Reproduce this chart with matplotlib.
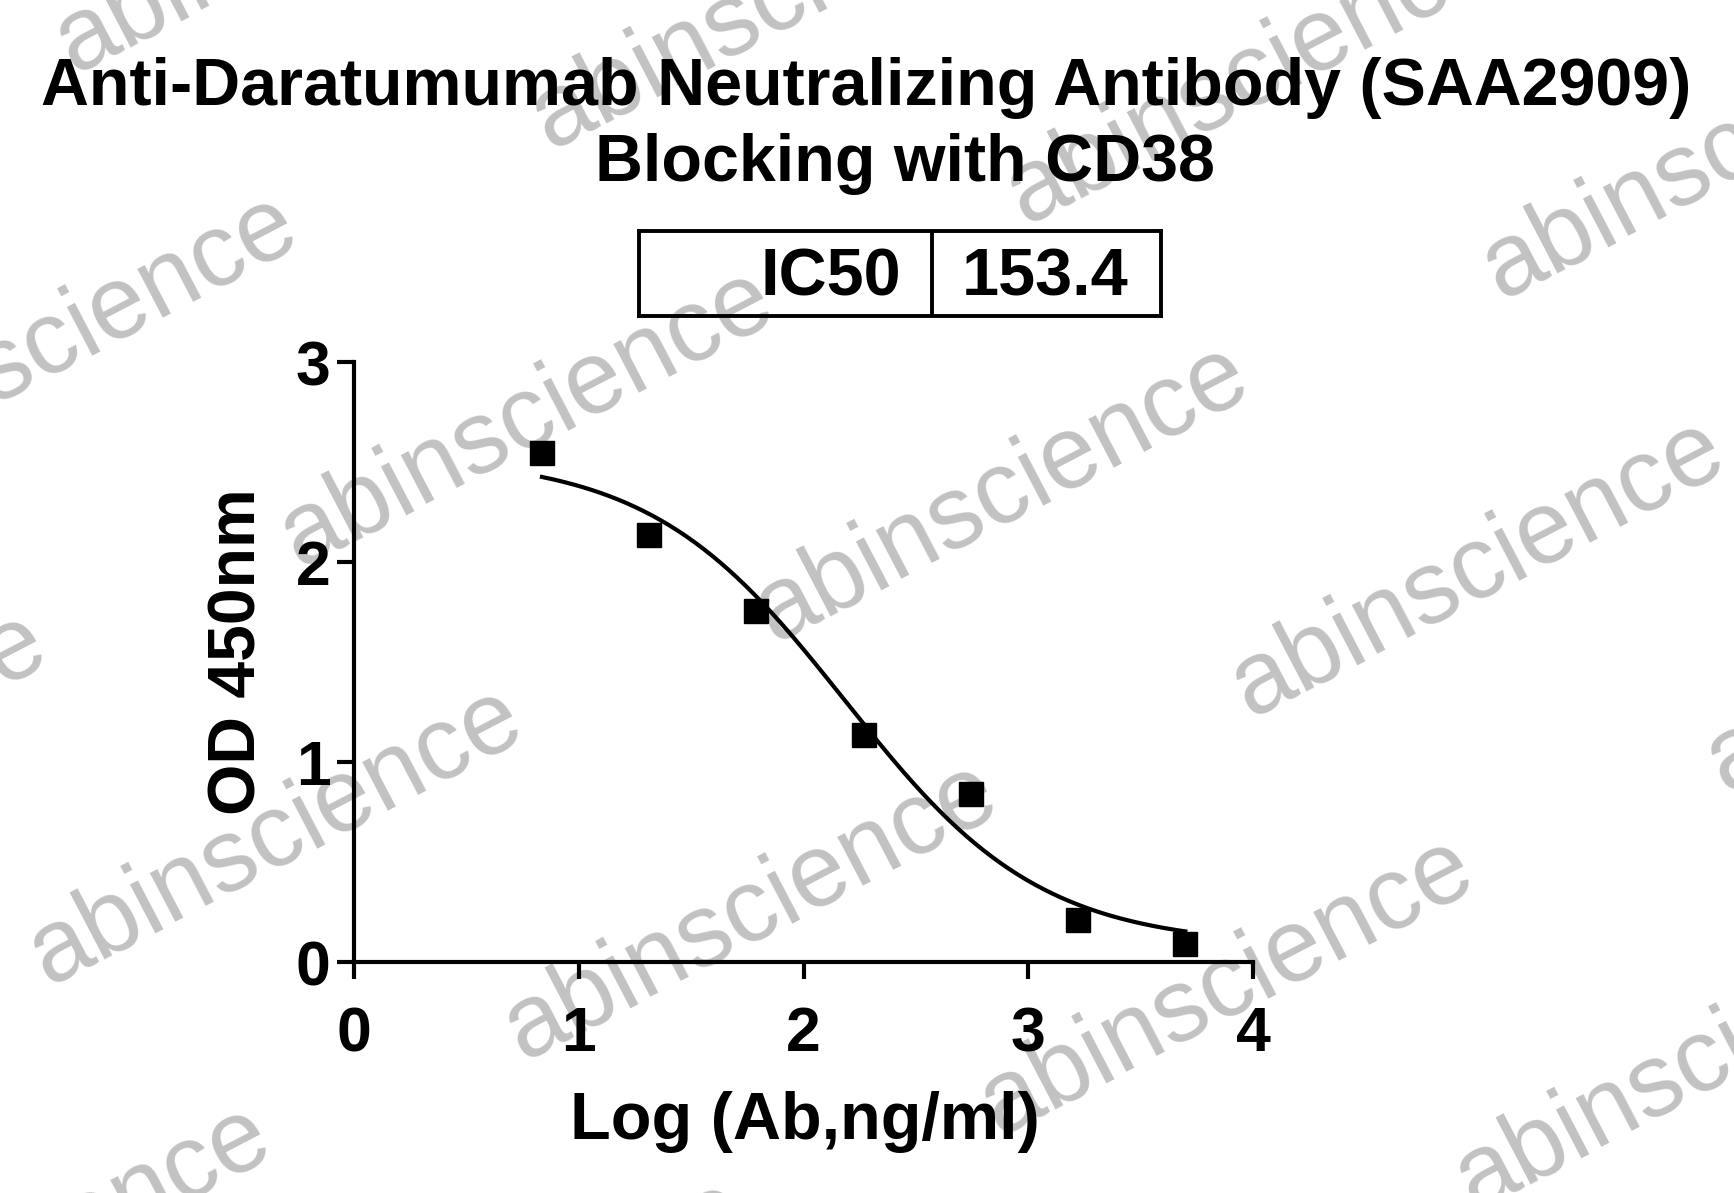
import numpy as np
import matplotlib
matplotlib.use("Agg")
import matplotlib.pyplot as plt

# ---- data ----
conc_ng_ml = [6.86, 20.6, 61.7, 185.2, 555.6, 1666.7, 5000.0]
od450 = [2.545, 2.135, 1.755, 1.135, 0.838, 0.212, 0.092]
ic50 = 153.4
fit_top = 2.53
fit_bottom = 0.08
fit_hill = 1.0

title_line1 = "Anti-Daratumumab Neutralizing Antibody (SAA2909)"
title_line2 = "Blocking with CD38"
xlabel = "Log (Ab,ng/ml)"
ylabel = "OD 450nm"
xticks = [0, 1, 2, 3, 4]
yticks = [0, 1, 2, 3]

W, H = 1734, 1193
plt.rcParams['font.family'] = ['Liberation Sans', 'DejaVu Sans']
fig = plt.figure(figsize=(W / 100, H / 100), dpi=100)

def fx(px):
    return px / W

def fy(py):
    return 1 - py / H

# ---- watermarks ----
s = W / 1568.0
A0 = np.array([476.0, 378.0])
col_step = np.array([430.0, 68.0])
row_step = np.array([-227.0, 378.0])
for r in range(-2, 4):
    for c in range(-2, 5):
        cx, cy = (A0 + c * col_step + r * row_step) * s
        if -400 < cx < W + 400 and -300 < cy < H + 300:
            fig.text(fx(cx), fy(cy), "abinscience", fontsize=74, color="#c2c2c2",
                     rotation=27.6, rotation_mode="anchor", ha="center", va="center",
                     family=['Liberation Sans', 'DejaVu Sans'], zorder=-5)

# ---- axes ----
x0, x4 = 354, 1253
y0, y3 = 962, 362
ax = fig.add_axes([fx(x0), fy(y0), (x4 - x0) / W, (y0 - y3) / H])
ax.set_facecolor("none")
ax.patch.set_alpha(0)

logx = np.log10(conc_ng_ml)
xs = np.linspace(logx.min(), logx.max(), 300)
ys = fit_bottom + (fit_top - fit_bottom) / (1 + 10 ** ((xs - np.log10(ic50)) * fit_hill))
ax.plot(xs, ys, color="black", lw=3.0, zorder=3)
ax.plot(logx, od450, ls="none", marker="s", ms=17.5, color="black", zorder=4, clip_on=False)

ax.set_xlim(0, 4)
ax.set_ylim(0, 3)
ax.set_xticks(xticks)
ax.set_yticks(yticks)
for sp in ["top", "right"]:
    ax.spines[sp].set_visible(False)
for sp in ["left", "bottom"]:
    ax.spines[sp].set_linewidth(3.0)
ax.tick_params(axis="both", direction="out", length=12, width=3.0, labelsize=45)
ax.tick_params(axis="x", pad=19)
ax.tick_params(axis="y", pad=5)
for lab in ax.get_xticklabels() + ax.get_yticklabels():
    lab.set_fontweight("bold")

# axis labels (figure text placement)
fig.text(fx(805), fy(1139), xlabel, fontsize=48, fontweight="bold", ha="center", va="baseline")
fig.text(fx(238), fy(652), ylabel, fontsize=47.5, fontweight="bold", ha="center", va="center", rotation=90)

# titles
fig.text(fx(866), fy(105), title_line1, fontsize=47.8, fontweight="bold", ha="center", va="baseline")
fig.text(fx(905), fy(181), title_line2, fontsize=47.8, fontweight="bold", ha="center", va="baseline")

# IC50 table
bx0, bx1, by0, by1, bdiv = 639, 1161, 231, 316, 932
tbl = fig.add_axes([fx(bx0), fy(by1), (bx1 - bx0) / W, (by1 - by0) / H])
tbl.set_xlim(bx0, bx1)
tbl.set_ylim(by1, by0)
tbl.set_xticks([])
tbl.set_yticks([])
tbl.patch.set_alpha(0)
for sp in tbl.spines.values():
    sp.set_linewidth(2.8)
tbl.axvline(bdiv, color="black", lw=2.8)
tbl.text(901, 296, "IC50", fontsize=48, fontweight="bold", ha="right", va="baseline")
tbl.text(962, 296, f"{ic50:.1f}", fontsize=48, fontweight="bold", ha="left", va="baseline")

fig.savefig("out.png", dpi=100, facecolor="white")
